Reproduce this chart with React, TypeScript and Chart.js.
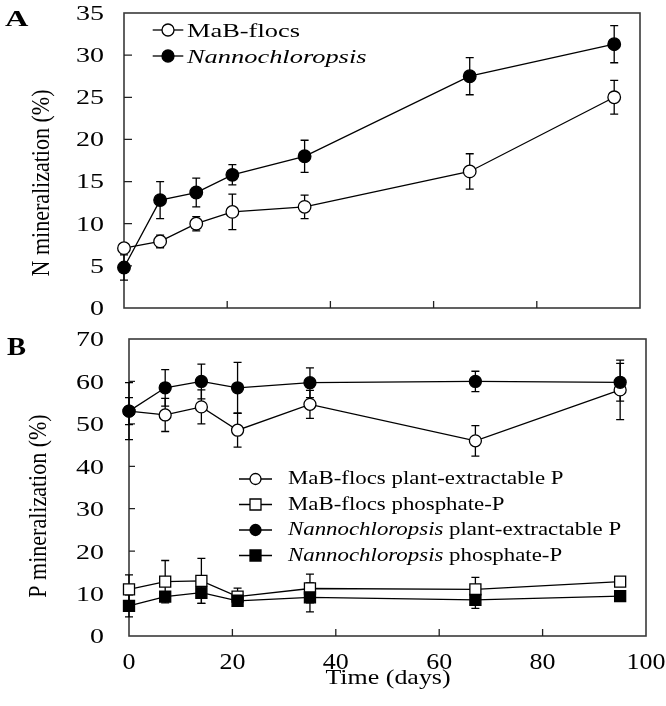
import React, { useEffect, useRef } from 'react';
import { Chart, registerables } from 'chart.js';

Chart.register(...registerables);

// ---------------- data ----------------
const days = [0, 7, 14, 21, 35, 67, 95];
const xTicks = [0, 20, 40, 60, 80, 100];
const yTicksA = [0, 5, 10, 15, 20, 25, 30, 35];
const yTicksB = [0, 10, 20, 30, 40, 50, 60, 70];

// Panel A: N mineralization (%)
const mabN = [7.1, 7.9, 10.0, 11.4, 12.0, 16.2, 25.0];
const mabNErr = [0.5, 0.75, 0.85, 2.1, 1.4, 2.1, 2.0];
const nannoN = [4.8, 12.8, 13.7, 15.8, 18.0, 27.5, 31.3];
const nannoNErr = [1.5, 2.2, 1.7, 1.2, 1.9, 2.2, 2.2];

// Panel B: P mineralization (%)
const mabPlantP = [53.0, 52.1, 54.0, 48.5, 54.6, 46.0, 58.0];
const mabPlantPErr = [6.7, 3.9, 4.0, 4.0, 3.3, 3.6, 7.0];
const mabPhosP = [11.0, 12.8, 13.0, 9.3, 11.2, 11.0, 12.8];
const mabPhosPErr = [3.4, 5.0, 5.3, 2.0, 3.4, 2.8, 0.5];
const nannoPlantP = [53.0, 58.5, 60.0, 58.5, 59.7, 60.0, 59.8];
const nannoPlantPErr = [3.2, 4.3, 4.1, 6.0, 3.5, 2.4, 4.45];
const nannoPhosP = [7.1, 9.3, 10.2, 8.3, 9.1, 8.5, 9.4];
const nannoPhosPErr = [2.6, 1.0, 2.5, 1.0, 3.4, 2.0, 0.5];

const titleA = 'N mineralization (%)';
const titleB = 'P mineralization (%)';
const xTitle = 'Time (days)';

// ---------------- helpers ----------------
const SERIF = '"Liberation Serif", "Times New Roman", serif';

type Seg = { t: string; italic?: boolean };
type LegendItem = { segs: Seg[]; style: 'circle' | 'rect'; filled: boolean };

const legendA: LegendItem[] = [
  { segs: [{ t: 'MaB-flocs' }], style: 'circle', filled: false },
  { segs: [{ t: 'Nannochloropsis', italic: true }], style: 'circle', filled: true },
];
const legendB: LegendItem[] = [
  { segs: [{ t: 'MaB-flocs plant-extractable P' }], style: 'circle', filled: false },
  { segs: [{ t: 'MaB-flocs phosphate-P' }], style: 'rect', filled: false },
  { segs: [{ t: 'Nannochloropsis', italic: true }, { t: ' plant-extractable P' }], style: 'circle', filled: true },
  { segs: [{ t: 'Nannochloropsis', italic: true }, { t: ' phosphate-P' }], style: 'rect', filled: true },
];

function fontStr(size: number, italic = false, bold = false) {
  return `${italic ? 'italic ' : ''}${bold ? 'bold ' : ''}${size}px ${SERIF}`;
}

function drawStretched(
  ctx: CanvasRenderingContext2D,
  text: string,
  x: number,
  y: number,
  size: number,
  sx: number,
  align: 'left' | 'center' | 'right',
  bold = false,
  italic = false
) {
  ctx.save();
  ctx.font = fontStr(size, italic, bold);
  ctx.textBaseline = 'alphabetic';
  ctx.textAlign = 'left';
  const w = ctx.measureText(text).width * sx;
  const x0 = align === 'right' ? x - w : align === 'center' ? x - w / 2 : x;
  ctx.translate(x0, y);
  ctx.scale(sx, 1);
  ctx.fillStyle = '#000';
  ctx.fillText(text, 0, 0);
  ctx.restore();
  return w;
}

function drawRotated(ctx: CanvasRenderingContext2D, text: string, cx: number, cy: number, size: number, sx: number) {
  ctx.save();
  ctx.font = fontStr(size);
  ctx.textAlign = 'center';
  ctx.textBaseline = 'middle';
  ctx.translate(cx, cy);
  ctx.scale(sx, 1);
  ctx.rotate(-Math.PI / 2);
  ctx.fillStyle = '#000';
  ctx.fillText(text, 0, 0);
  ctx.restore();
}

function drawMarker(ctx: CanvasRenderingContext2D, style: string, filled: boolean, x: number, y: number, r: number) {
  ctx.save();
  ctx.beginPath();
  if (style === 'circle') ctx.arc(x, y, r, 0, Math.PI * 2);
  else ctx.rect(x - r, y - r, 2 * r, 2 * r);
  ctx.fillStyle = filled ? '#000' : '#fff';
  ctx.fill();
  ctx.lineWidth = 1.3;
  ctx.strokeStyle = '#000';
  ctx.stroke();
  ctx.restore();
}

function drawLegend(
  ctx: CanvasRenderingContext2D,
  items: LegendItem[],
  o: { x1: number; x2: number; textX: number; rows: number[]; size: number; sx: number; r: number; rs: number; baseOff: number }
) {
  items.forEach((it, i) => {
    const y = o.rows[i];
    ctx.save();
    ctx.strokeStyle = '#000';
    ctx.lineWidth = 1.3;
    ctx.beginPath();
    ctx.moveTo(o.x1, y);
    ctx.lineTo(o.x2, y);
    ctx.stroke();
    ctx.restore();
    drawMarker(ctx, it.style, it.filled, (o.x1 + o.x2) / 2, y, it.style === 'circle' ? o.r : o.rs);
    let x = o.textX;
    it.segs.forEach((s) => {
      x += drawStretched(ctx, s.t, x, y + o.baseOff, o.size, o.sx, 'left', false, !!s.italic);
    });
  });
}

function makeDataset(label: string, ys: number[], errs: number[], style: string, filled: boolean, order: number, radius: number) {
  return {
    label,
    data: days.map((d, i) => ({ x: d, y: ys[i] })),
    errors: errs,
    borderColor: '#000',
    borderWidth: 1.3,
    pointStyle: style,
    pointRadius: radius,
    pointHoverRadius: radius,
    pointBackgroundColor: filled ? '#000' : '#fff',
    pointBorderColor: '#000',
    pointBorderWidth: 1.3,
    showLine: true,
    fill: false,
    tension: 0,
    clip: false,
    order,
  };
}

type PanelOpts = {
  yMax: number;
  yTicks: number[];
  padTop: number;
  padRight: number;
  yAxisWidth: number;
  xAxisHeight: number;
  yTickLen: number;
  xTickLen: number;
  decorate: (chart: any) => void;
};

function makeConfig(datasets: any[], p: PanelOpts): any {
  const framePlugin = {
    id: 'frameAndErr',
    beforeDatasetsDraw(chart: any) {
      const { ctx, chartArea: a, scales } = chart;
      const xs = scales.x;
      const ys = scales.y;
      ctx.save();
      ctx.strokeStyle = '#3a3a3a';
      ctx.lineWidth = 1.6;
      ctx.strokeRect(a.left, a.top, a.right - a.left, a.bottom - a.top);
      ctx.beginPath();
      ctx.strokeStyle = '#222';
      ctx.lineWidth = 1.3;
      p.yTicks.forEach((v) => {
        if (v === 0 || v === p.yMax) return;
        const y = ys.getPixelForValue(v);
        ctx.moveTo(a.left, y);
        ctx.lineTo(a.left + p.yTickLen, y);
      });
      xTicks.forEach((v) => {
        if (v === 0 || v === 100) return;
        const x = xs.getPixelForValue(v);
        ctx.moveTo(x, a.bottom);
        ctx.lineTo(x, a.bottom - p.xTickLen);
      });
      ctx.stroke();
      ctx.restore();

      // error bars
      chart.data.datasets.forEach((ds: any, i: number) => {
        const errs = ds.errors as number[];
        if (!errs) return;
        const meta = chart.getDatasetMeta(i);
        meta.data.forEach((pt: any, j: number) => {
          const v = ds.data[j].y;
          const e = errs[j];
          const x = pt.x;
          const yt = ys.getPixelForValue(v + e);
          const yb = ys.getPixelForValue(v - e);
          ctx.save();
          ctx.strokeStyle = '#000';
          ctx.lineWidth = 1.3;
          ctx.beginPath();
          ctx.moveTo(x, yt);
          ctx.lineTo(x, yb);
          ctx.moveTo(x - 4, yt);
          ctx.lineTo(x + 4, yt);
          ctx.moveTo(x - 4, yb);
          ctx.lineTo(x + 4, yb);
          ctx.stroke();
          ctx.restore();
        });
      });
    },
    afterDraw(chart: any) {
      p.decorate(chart);
    },
  };

  return {
    type: 'line',
    data: { datasets },
    options: {
      responsive: false,
      maintainAspectRatio: false,
      animation: false,
      events: [],
      layout: { padding: { top: p.padTop, right: p.padRight, left: 0, bottom: 0 } },
      plugins: { legend: { display: false }, tooltip: { enabled: false }, title: { display: false } },
      scales: {
        x: {
          type: 'linear',
          min: 0,
          max: 100,
          ticks: { display: false, stepSize: 20 },
          grid: { display: false },
          border: { display: false },
          afterFit: (s: any) => {
            s.height = p.xAxisHeight;
          },
        },
        y: {
          type: 'linear',
          min: 0,
          max: p.yMax,
          ticks: { display: false, stepSize: p.yTicks[1] - p.yTicks[0] },
          grid: { display: false },
          border: { display: false },
          afterFit: (s: any) => {
            s.width = p.yAxisWidth;
          },
        },
      },
    },
    plugins: [framePlugin],
  };
}

// ---------------- component ----------------
export default function App() {
  const refA = useRef<HTMLCanvasElement>(null);
  const refB = useRef<HTMLCanvasElement>(null);

  useEffect(() => {
    const dsA = [
      makeDataset('MaB-flocs', mabN, mabNErr, 'circle', false, 1, 6.3),
      makeDataset('Nannochloropsis', nannoN, nannoNErr, 'circle', true, 0, 6.3),
    ];
    const cfgA = makeConfig(dsA, {
      yMax: 35,
      yTicks: yTicksA,
      padTop: 13,
      padRight: 26,
      yAxisWidth: 124,
      xAxisHeight: 17,
      yTickLen: 8,
      xTickLen: 7,
      decorate: (chart: any) => {
        const { ctx, scales } = chart;
        yTicksA.forEach((v) => {
          const y = scales.y.getPixelForValue(v);
          drawStretched(ctx, String(v), 104, y + 6.8, 20, 1.4, 'right');
        });
        drawRotated(ctx, titleA, 43, 183, 22, 1.1);
        drawStretched(ctx, 'A', 5, 26, 24, 1.35, 'left', true);
        drawLegend(ctx, legendA, {
          x1: 152.7,
          x2: 183.3,
          textX: 187,
          rows: [30, 56],
          size: 19,
          sx: 1.39,
          r: 6,
          rs: 5.5,
          baseOff: 6.5,
        });
      },
    });

    const dsB = [
      makeDataset('MaB-flocs plant-extractable P', mabPlantP, mabPlantPErr, 'circle', false, 1, 6),
      makeDataset('MaB-flocs phosphate-P', mabPhosP, mabPhosPErr, 'rect', false, 1, 7.8),
      makeDataset('Nannochloropsis plant-extractable P', nannoPlantP, nannoPlantPErr, 'circle', true, 0, 6),
      makeDataset('Nannochloropsis phosphate-P', nannoPhosP, nannoPhosPErr, 'rect', true, 0, 7.8),
    ];
    const cfgB = makeConfig(dsB, {
      yMax: 70,
      yTicks: yTicksB,
      padTop: 14,
      padRight: 20,
      yAxisWidth: 129,
      xAxisHeight: 70,
      yTickLen: 6,
      xTickLen: 7,
      decorate: (chart: any) => {
        const { ctx, scales } = chart;
        yTicksB.forEach((v) => {
          const y = scales.y.getPixelForValue(v);
          drawStretched(ctx, String(v), 104, y + 7.4, 22, 1.27, 'right');
        });
        xTicks.forEach((v) => {
          const x = scales.x.getPixelForValue(v);
          drawStretched(ctx, String(v), x, 343.8, 23, 1.13, 'center');
        });
        drawStretched(ctx, xTitle, 388, 359, 22, 1.18, 'center');
        drawRotated(ctx, titleB, 39, 181, 22, 1.15);
        drawStretched(ctx, 'B', 7, 30, 25.7, 1.11, 'left', true);
        drawLegend(ctx, legendB, {
          x1: 239,
          x2: 272,
          textX: 288,
          rows: [154, 179.5, 205, 230.5],
          size: 18,
          sx: 1.27,
          r: 5.5,
          rs: 5.5,
          baseOff: 5,
        });
      },
    });

    const a = new Chart(refA.current as HTMLCanvasElement, cfgA);
    const b = new Chart(refB.current as HTMLCanvasElement, cfgB);
    return () => {
      a.destroy();
      b.destroy();
    };
  }, []);

  return (
    <div style={{ position: 'fixed', left: 0, top: 0, width: 666, height: 706, background: '#fff' }}>
      <canvas ref={refA} width={666} height={325} style={{ position: 'absolute', left: 0, top: 0 }} />
      <canvas ref={refB} width={666} height={381} style={{ position: 'absolute', left: 0, top: 325 }} />
    </div>
  );
}
